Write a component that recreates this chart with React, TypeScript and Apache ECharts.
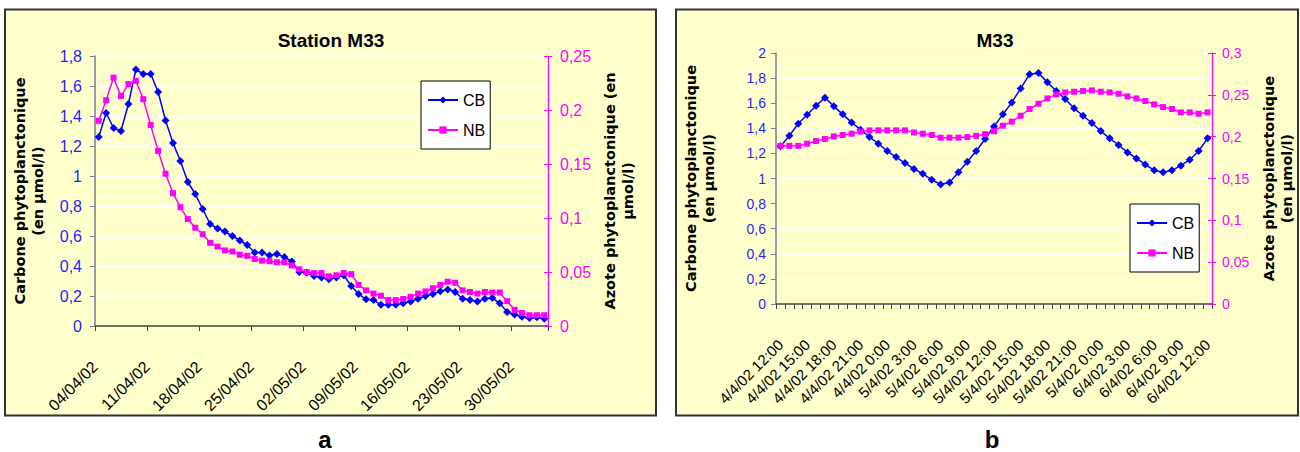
import React, { useEffect, useRef } from 'react';
import * as echarts from 'echarts';

// chart a: daily values, station M33 (04/04/02 -> 03/06/02)
const leftTickLabels = ['04/04/02', '11/04/02', '18/04/02', '25/04/02', '02/05/02', '09/05/02', '16/05/02', '23/05/02', '30/05/02'];

const leftCB = [
  1.26, 1.42, 1.32, 1.30, 1.48, 1.71, 1.68, 1.68, 1.56, 1.37,
  1.22, 1.10, 0.96, 0.88, 0.78, 0.68, 0.65, 0.63, 0.60, 0.57,
  0.54, 0.49, 0.49, 0.47, 0.48, 0.46, 0.43, 0.36, 0.355, 0.333,
  0.324, 0.311, 0.324, 0.338, 0.267, 0.213, 0.178, 0.173, 0.142, 0.142,
  0.142, 0.151, 0.164, 0.182, 0.2, 0.213, 0.231, 0.244, 0.227, 0.182,
  0.173, 0.164, 0.182, 0.187, 0.151, 0.093, 0.076, 0.062, 0.053, 0.058,
  0.049,
];

const leftNB = [
  0.190, 0.209, 0.230, 0.213, 0.224, 0.227, 0.210, 0.186, 0.162, 0.141,
  0.123, 0.110, 0.099, 0.091, 0.085, 0.077, 0.0735, 0.070, 0.069, 0.066,
  0.065, 0.062, 0.0605, 0.060, 0.059, 0.059, 0.056, 0.0525, 0.050, 0.049,
  0.049, 0.046, 0.047, 0.049, 0.048, 0.038, 0.033, 0.030, 0.028, 0.024,
  0.024, 0.025, 0.027, 0.030, 0.032, 0.035, 0.038, 0.041, 0.040, 0.033,
  0.0315, 0.030, 0.0315, 0.031, 0.031, 0.023, 0.015, 0.012, 0.010, 0.010,
  0.010,
];

// chart b: hourly values, labels every 3 hours
const rightTickLabels = [
  '4/4/02 12:00', '4/4/02 15:00', '4/4/02 18:00', '4/4/02 21:00', '4/4/02 0:00',
  '5/4/02 3:00', '5/4/02 6:00', '5/4/02 9:00', '5/4/02 12:00', '5/4/02 15:00',
  '5/4/02 18:00', '5/4/02 21:00', '5/4/02 0:00', '6/4/02 3:00', '6/4/02 6:00',
  '6/4/02 9:00', '6/4/02 12:00',
];

const rightCB = [
  1.256, 1.341, 1.437, 1.508, 1.580, 1.644, 1.575, 1.511, 1.447, 1.389,
  1.331, 1.277, 1.219, 1.171, 1.123, 1.076, 1.038, 0.990, 0.953, 0.969,
  1.049, 1.134, 1.219, 1.315, 1.415, 1.511, 1.606, 1.718, 1.830, 1.841,
  1.766, 1.697, 1.633, 1.559, 1.500, 1.442, 1.378, 1.320, 1.267, 1.208,
  1.160, 1.112, 1.065, 1.049, 1.065, 1.102, 1.150, 1.219, 1.320,
];

const rightNB = [
  0.189, 0.189, 0.189, 0.1916, 0.1948, 0.1972, 0.2003, 0.202, 0.2035, 0.206,
  0.2075, 0.2075, 0.2075, 0.2075, 0.2075, 0.205, 0.2035, 0.202, 0.1988, 0.1988,
  0.1988, 0.1995, 0.201, 0.203, 0.2065, 0.2131, 0.2179, 0.2250, 0.2331, 0.2394,
  0.2457, 0.2505, 0.2529, 0.2537, 0.2546, 0.2553, 0.2537, 0.2529, 0.2513, 0.2481,
  0.2457, 0.2426, 0.2386, 0.2354, 0.2331, 0.2290, 0.2290, 0.2274, 0.2290,
];

const BLUE = '#0000ff';
const MAGENTA = '#ff00ff';
const BG = '#ffffcc';
const FONT = 'Arial, "Liberation Sans", sans-serif';
const TITLE_FONT = '"DejaVu Sans", Verdana, sans-serif';

const comma = (v: number) => String(+v.toFixed(2)).replace('.', ',');

const axisName = (gap: number) => ({
  nameLocation: 'middle' as const,
  nameRotate: 90,
  nameGap: gap,
  nameTextStyle: {
    fontFamily: TITLE_FONT,
    fontWeight: 'bold' as const,
    fontSize: 14.5,
    lineHeight: 18,
    color: '#000',
  },
});

const legendBox = (left: number, top: number) => ({
  left,
  top,
  orient: 'vertical' as const,
  data: ['CB', 'NB'],
  selectedMode: false,
  backgroundColor: '#fff',
  borderColor: '#000',
  borderWidth: 1,
  borderRadius: 0,
  padding: [10, 5, 10, 6],
  itemWidth: 30,
  itemHeight: 9,
  itemGap: 12,
  textStyle: { fontFamily: FONT, fontSize: 16, lineHeight: 18, color: '#000' },
});

const App: React.FC = () => {
  const chartRef = useRef<HTMLDivElement>(null);

  useEffect(() => {
    if (!chartRef.current) return;
    const chart = echarts.init(chartRef.current, null, { renderer: 'svg' });

    const rightCategories = rightCB.map((_, i) =>
      i % 3 === 0 ? rightTickLabels[i / 3] : `${rightTickLabels[Math.floor(i / 3)]} +${i % 3}h`
    );

    chart.setOption({
      animation: false,
      graphic: [
        {
          type: 'rect', z: -10,
          shape: { x: 5, y: 9.5, width: 651, height: 406 },
          style: { fill: BG, stroke: '#333', lineWidth: 2 },
        },
        {
          type: 'rect', z: -10,
          shape: { x: 676, y: 9.5, width: 622, height: 406 },
          style: { fill: BG, stroke: '#333', lineWidth: 2 },
        },
        {
          type: 'text', x: 331, y: 40,
          style: { text: 'Station M33', textAlign: 'center', textVerticalAlign: 'middle', font: `bold 19px ${FONT}`, fill: '#000' },
        },
        {
          type: 'text', x: 995, y: 40,
          style: { text: 'M33', textAlign: 'center', textVerticalAlign: 'middle', font: `bold 19px ${FONT}`, fill: '#000' },
        },
        {
          type: 'text', x: 325, y: 451,
          style: { text: 'a', textAlign: 'center', textVerticalAlign: 'bottom', font: `bold 24px ${FONT}`, fill: '#000' },
        },
        {
          type: 'text', x: 992, y: 451,
          style: { text: 'b', textAlign: 'center', textVerticalAlign: 'bottom', font: `bold 24px ${FONT}`, fill: '#000' },
        },
      ],
      legend: [legendBox(421, 81), legendBox(1130, 204)],
      grid: [
        { left: 95, top: 56, width: 453, height: 270 },
        { left: 776, top: 53, width: 436, height: 251 },
      ],
      xAxis: [
        {
          gridIndex: 0,
          type: 'value',
          min: 0,
          max: 61,
          interval: 7,
          axisLine: { show: true, lineStyle: { color: '#444', width: 1.5 } },
          axisTick: { show: true, length: 5, lineStyle: { color: '#444' } },
          splitLine: { show: false },
          axisLabel: {
            rotate: 45,
            margin: 38,
            fontFamily: FONT,
            fontSize: 16,
            color: '#000',
            formatter: (v: number) => (v % 7 === 0 ? leftTickLabels[v / 7] ?? '' : ''),
          },
        },
        {
          gridIndex: 1,
          type: 'category',
          data: rightCategories,
          boundaryGap: true,
          axisLine: { show: true, lineStyle: { color: '#444', width: 1.5 } },
          axisTick: { show: true, interval: 0, length: 5, lineStyle: { color: '#444' } },
          splitLine: { show: false },
          axisLabel: {
            interval: 2,
            rotate: 45,
            margin: 38,
            fontFamily: FONT,
            fontSize: 15,
            color: '#000',
          },
        },
      ],
      yAxis: [
        {
          gridIndex: 0,
          type: 'value',
          position: 'left',
          min: 0,
          max: 1.8,
          interval: 0.2,
          name: 'Carbone phytoplanctonique\n(en µmol/l)',
          ...axisName(48),
          axisLine: { show: true, lineStyle: { color: '#7a7a96', width: 1.5 } },
          axisTick: { show: true, length: 5, lineStyle: { color: '#7a7a96' } },
          splitLine: { show: true, lineStyle: { color: '#fff', width: 1 } },
          axisLabel: { margin: 13, fontFamily: FONT, fontSize: 16, color: '#1f1fff', formatter: comma },
        },
        {
          gridIndex: 0,
          type: 'value',
          position: 'right',
          min: 0,
          max: 0.25,
          interval: 0.05,
          name: 'Azote phytoplanctonique (en\nµmol/l)',
          ...axisName(53),
          axisLine: { show: true, lineStyle: { color: MAGENTA, width: 1.2 } },
          axisTick: { show: true, length: 4, lineStyle: { color: MAGENTA } },
          splitLine: { show: false },
          axisLabel: { margin: 12, fontFamily: FONT, fontSize: 16, color: MAGENTA, formatter: comma },
        },
        {
          gridIndex: 1,
          type: 'value',
          position: 'left',
          min: 0,
          max: 2,
          interval: 0.2,
          name: 'Carbone phytoplanctonique\n(en µmol/l)',
          ...axisName(58),
          axisLine: { show: true, lineStyle: { color: '#7a7a96', width: 1.5 } },
          axisTick: { show: true, length: 5, lineStyle: { color: '#7a7a96' } },
          splitLine: { show: true, lineStyle: { color: '#fff', width: 1 } },
          axisLabel: { margin: 10, fontFamily: FONT, fontSize: 14, color: '#1f1fff', formatter: comma },
        },
        {
          gridIndex: 1,
          type: 'value',
          position: 'right',
          min: 0,
          max: 0.3,
          interval: 0.05,
          name: 'Azote phytoplanctonique\n(en µmol/l)',
          ...axisName(48),
          axisLine: { show: true, lineStyle: { color: MAGENTA, width: 1.2 } },
          axisTick: { show: true, length: 4, lineStyle: { color: MAGENTA } },
          splitLine: { show: false },
          axisLabel: { margin: 10, fontFamily: FONT, fontSize: 14, color: MAGENTA, formatter: comma },
        },
        // inner halves of the crossing ticks on the magenta axes
        {
          gridIndex: 0, type: 'value', position: 'right', min: 0, max: 0.25, interval: 0.05,
          axisLine: { show: false },
          axisTick: { show: true, inside: true, length: 4, lineStyle: { color: MAGENTA } },
          axisLabel: { show: false },
          splitLine: { show: false },
        },
        {
          gridIndex: 1, type: 'value', position: 'right', min: 0, max: 0.3, interval: 0.05,
          axisLine: { show: false },
          axisTick: { show: true, inside: true, length: 4, lineStyle: { color: MAGENTA } },
          axisLabel: { show: false },
          splitLine: { show: false },
        },
      ],
      series: [
        {
          name: 'CB', type: 'line', xAxisIndex: 0, yAxisIndex: 0,
          data: leftCB.map((v, i) => [i + 0.5, v]),
          symbol: 'diamond', symbolSize: 8, showAllSymbol: true,
          lineStyle: { color: BLUE, width: 1.5 }, itemStyle: { color: BLUE },
        },
        {
          name: 'NB', type: 'line', xAxisIndex: 0, yAxisIndex: 1,
          data: leftNB.map((v, i) => [i + 0.5, v]),
          symbol: 'rect', symbolSize: 6, showAllSymbol: true,
          lineStyle: { color: MAGENTA, width: 1.5 }, itemStyle: { color: MAGENTA },
        },
        {
          name: 'CB', type: 'line', xAxisIndex: 1, yAxisIndex: 2,
          data: rightCB,
          symbol: 'diamond', symbolSize: 8, showAllSymbol: true,
          lineStyle: { color: BLUE, width: 1.5 }, itemStyle: { color: BLUE },
        },
        {
          name: 'NB', type: 'line', xAxisIndex: 1, yAxisIndex: 3,
          data: rightNB,
          symbol: 'rect', symbolSize: 6, showAllSymbol: true,
          lineStyle: { color: MAGENTA, width: 1.5 }, itemStyle: { color: MAGENTA },
        },
      ],
    });

    return () => {
      chart.dispose();
    };
  }, []);

  return (
    <div
      ref={chartRef}
      style={{ position: 'fixed', left: 0, top: 0, width: '1300px', height: '452px', background: '#fff' }}
    ></div>
  );
};

export default App;
